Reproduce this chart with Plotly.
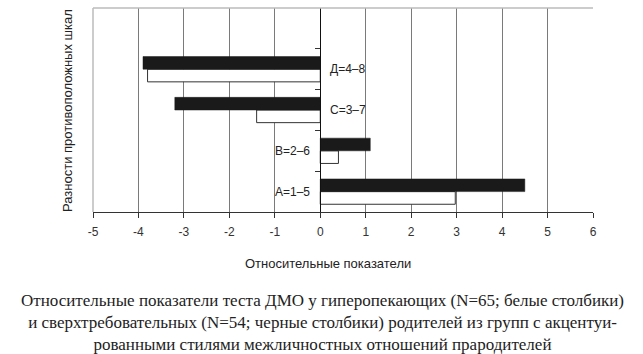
import plotly.graph_objects as go

categories = ["А=1–5", "В=2–6", "С=3–7", "Д=4–8"]
white_values = [2.97, 0.4, -1.4, -3.8]   # гиперопекающие (N=65)
black_values = [4.5, 1.1, -3.2, -3.9]    # сверхтребовательные (N=54)
x_ticks = [-5, -4, -3, -2, -1, 0, 1, 2, 3, 4, 5, 6]
x_ticktext = ["-5", "-4", "-3", "-2", "-1", "0", "1", "2", "3", "4", "5", "6"]

W, H = 643, 354
L, R, T, B = 93, 50, 8, 142
pw, ph = W - L - R, H - T - B

def px(x):
    return (x - L) / pw

def py(y):
    return (H - B - y) / ph

fig = go.Figure()
fig.add_trace(go.Bar(
    y=categories, x=white_values, orientation="h", name="белые",
    marker=dict(color="white", line=dict(color="#333333", width=1)),
))
fig.add_trace(go.Bar(
    y=categories, x=black_values, orientation="h", name="черные",
    marker=dict(color="#1a1a1a", line=dict(color="#1a1a1a", width=0.5)),
))

fig.update_layout(
    width=W, height=H,
    margin=dict(l=L, r=R, t=T, b=B),
    paper_bgcolor="white", plot_bgcolor="white",
    barmode="group", bargap=0.38, bargroupgap=0,
    showlegend=False,
    font=dict(family="Liberation Sans, Arial", size=12, color="#222"),
    xaxis=dict(
        range=[-5, 6], tickvals=x_ticks, ticktext=x_ticktext,
        showgrid=True, gridcolor="#7a7a7a", gridwidth=1,
        zeroline=False,
        showline=True, linecolor="#333", linewidth=1,
        ticks="outside", ticklen=5, tickcolor="#333",
        ticklabelstandoff=4,
        tickfont=dict(size=12, color="#333"),
    ),
    yaxis=dict(
        type="category", categoryorder="array", categoryarray=categories,
        range=[-0.5, 4.5],
        showgrid=False, zeroline=False,
        showline=True, linecolor="#111", linewidth=1.2,
        ticks="outside", ticklen=5, tickcolor="#333", tickson="boundaries",
        showticklabels=False,
        anchor="free", position=5 / 11,
    ),
)

# top border line and left border
fig.add_shape(type="line", xref="paper", yref="paper", x0=0, x1=1, y0=1, y1=1,
              line=dict(color="#bbbbbb", width=1.5))
fig.add_shape(type="line", xref="paper", yref="paper", x0=0, x1=0, y0=0, y1=1,
              line=dict(color="#bbbbbb", width=1.5))

# category labels next to zero line
for cat, wv, bv in zip(categories, white_values, black_values):
    right_side = (wv + bv) < 0
    fig.add_annotation(
        x=0, y=cat, xref="x", yref="y", text=cat, showarrow=False,
        xanchor="left" if right_side else "right", yanchor="middle",
        xshift=8 if right_side else -8,
        font=dict(size=12, color="#222"),
    )

fig.add_annotation(
    x=px(67), y=py(111), xref="paper", yref="paper",
    xanchor="center", yanchor="middle",
    text="Разности противоположных шкал", textangle=-90, showarrow=False,
    font=dict(size=13, color="#222"),
)
fig.add_annotation(
    x=px(328), y=py(263), xref="paper", yref="paper",
    xanchor="center", yanchor="middle",
    text="Относительные показатели", showarrow=False,
    font=dict(size=13, color="#222"),
)
fig.add_annotation(
    x=px(322), y=py(322), xref="paper", yref="paper",
    xanchor="center", yanchor="middle",
    text=("Относительные показатели теста ДМО у гиперопекающих (N=65; белые столбики)<br>"
          "и сверхтребовательных (N=54; черные столбики) родителей из групп с акцентуи-<br>"
          "рованными стилями межличностных отношений прародителей"),
    showarrow=False, align="center",
    font=dict(family="Liberation Serif, Times New Roman, serif", size=17, color="#222"),
)

fig.write_html("out.html")
